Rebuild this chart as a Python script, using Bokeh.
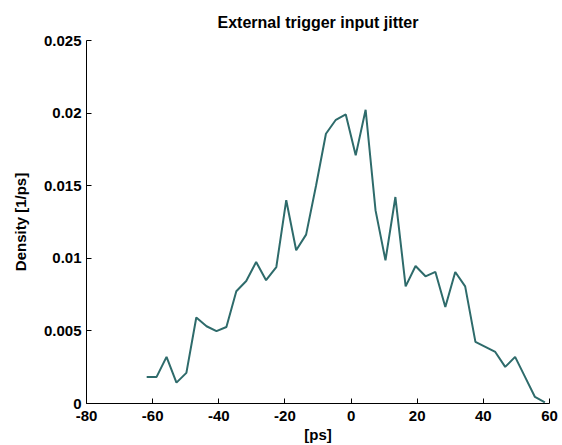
from bokeh.plotting import figure
from bokeh.models import FixedTicker, Range1d
from bokeh.embed import file_html
from bokeh.resources import INLINE

# Data
x_ps = [-61.8, -58.8, -55.8, -52.8, -49.8, -46.8, -43.7, -40.7, -37.7, -34.7,
        -31.7, -28.7, -25.7, -22.6, -19.6, -16.6, -13.6, -10.6, -7.6, -4.6,
        -1.6, 1.4, 4.4, 7.4, 10.4, 13.4, 16.5, 19.5, 22.5, 25.5,
        28.5, 31.5, 34.5, 37.6, 40.6, 43.6, 46.6, 49.6, 52.6, 55.6, 58.6]
density = [0.00183, 0.00183, 0.00321, 0.00144, 0.00211, 0.00592, 0.00532, 0.00498, 0.00527, 0.00773,
           0.00844, 0.00975, 0.00849, 0.00940, 0.01400, 0.01055, 0.01163, 0.01500, 0.01858, 0.01954,
           0.01991, 0.01709, 0.02023, 0.01330, 0.00986, 0.01422, 0.00807, 0.00947, 0.00876, 0.00906,
           0.00665, 0.00906, 0.00807, 0.00424, 0.00390, 0.00355, 0.00252, 0.00321, 0.00183, 0.00045,
           0.00007]

x_ticks = [-80, -60, -40, -20, 0, 20, 40, 60]
x_tick_labels = ["-80", "-60", "-40", "-20", "0", "20", "40", "60"]
y_ticks = [0, 0.005, 0.01, 0.015, 0.02, 0.025]
y_tick_labels = ["0", "0.005", "0.01", "0.015", "0.02", "0.025"]

FONT = "Liberation Sans"

p = figure(width=562, height=445, output_backend="svg", toolbar_location=None,
           x_range=Range1d(-80, 60), y_range=Range1d(0, 0.025),
           title="External trigger input jitter",
           min_border_left=86, min_border_right=13, min_border_top=40, min_border_bottom=42)

p.line(x_ps, density, line_color="#2e6b6b", line_width=2)

p.outline_line_color = None
p.grid.grid_line_color = None
p.background_fill_color = "white"
p.border_fill_color = "white"

p.title.align = "center"
p.title.text_font = FONT
p.title.text_font_style = "bold"
p.title.text_font_size = "16px"
p.title.text_color = "black"
p.title.standoff = 19

for ax in (p.xaxis, p.yaxis):
    ax.axis_line_color = "black"
    ax.axis_line_width = 1
    ax.major_tick_in = 5
    ax.major_tick_out = 0
    ax.minor_tick_line_color = None
    ax.major_tick_line_color = "black"
    ax.major_label_text_font = FONT
    ax.major_label_text_font_style = "bold"
    ax.major_label_text_font_size = "15px"
    ax.major_label_text_color = "black"
    ax.axis_label_text_font = FONT
    ax.axis_label_text_font_style = "bold"
    ax.axis_label_text_font_size = "15px"
    ax.axis_label_text_color = "black"

p.xaxis.ticker = FixedTicker(ticks=x_ticks)
p.yaxis.ticker = FixedTicker(ticks=y_ticks)
p.xaxis.major_label_overrides = {t: l for t, l in zip(x_ticks, x_tick_labels)}
p.yaxis.major_label_overrides = {t: l for t, l in zip(y_ticks, y_tick_labels)}
p.xaxis.major_label_standoff = 7
p.yaxis.major_label_standoff = 5
p.xaxis.axis_label = "[ps]"
p.yaxis.axis_label = "Density [1/ps]"
p.xaxis.axis_label_standoff = 2
p.yaxis.axis_label_standoff = 12

open("out.html", "w").write(file_html(p, INLINE))
